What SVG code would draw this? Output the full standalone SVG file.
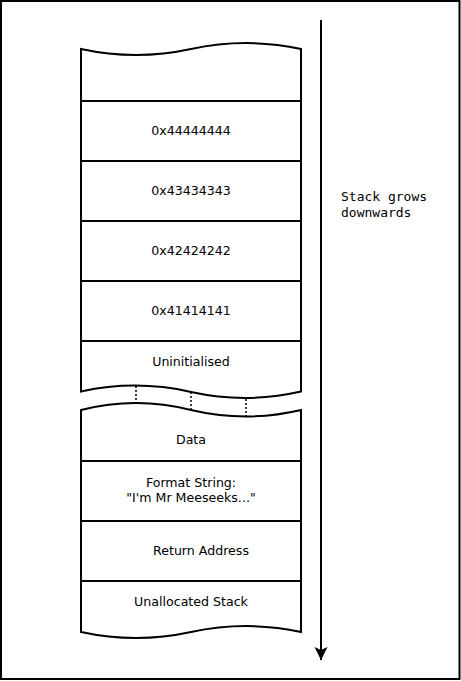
<svg xmlns="http://www.w3.org/2000/svg" width="461" height="681" viewBox="0 0 461 681">
<style>
.s{fill:#fff;stroke:#000;stroke-width:2}
.t{font-family:"DejaVu Sans","Liberation Sans",sans-serif;font-size:12.6px;fill:#000;text-anchor:middle}
.m{font-family:"DejaVu Sans Mono","Liberation Mono",monospace;font-size:13px;fill:#000}
.d{stroke:#000;stroke-width:1.5;stroke-dasharray:2 2;fill:none}
</style>
<defs>
<marker id="ah" markerWidth="14" markerHeight="14" viewBox="0 0 14 14" refX="13" refY="7" orient="auto" markerUnits="userSpaceOnUse">
<path d="M0,0.5 L13,7 L0,13.5 L3,7 Z" fill="#000"/>
</marker>
</defs>
<rect x="1" y="1" width="458.5" height="678" fill="#fff" stroke="#000" stroke-width="2"/>
<g id="top">
<path class="s" d="M81,101 L81,49 Q136,61 191,49 Q246,37 301,49 L301,101 Z"/>
</g>
<g id="cell44">
<rect class="s" x="81" y="101" width="220" height="60"/>
<text class="t" x="191" y="135">0x44444444</text>
</g>
<g id="cell43">
<rect class="s" x="81" y="161" width="220" height="60"/>
<text class="t" x="191" y="195">0x43434343</text>
</g>
<g id="cell42">
<rect class="s" x="81" y="221" width="220" height="60"/>
<text class="t" x="191" y="255">0x42424242</text>
</g>
<g id="cell41">
<rect class="s" x="81" y="281" width="220" height="60"/>
<text class="t" x="191" y="315">0x41414141</text>
</g>
<g id="uninit">
<path class="s" d="M81,341 L301,341 L301,391.5 Q246,404 191,392 Q136,379.5 81,391.5 Z"/>
<text class="t" x="191" y="366">Uninitialised</text>
</g>
<g id="data">
<path class="s" d="M81,461 L81,410 Q136,396 191,410 Q246,423 301,410 L301,461 Z"/>
<text class="t" x="191" y="444">Data</text>
</g>
<g id="format">
<rect class="s" x="81" y="461" width="220" height="60"/>
<text class="t" x="191" y="487">Format String:</text>
<text class="t" x="191" y="502">"I'm Mr Meeseeks..."</text>
</g>
<g id="ret">
<rect class="s" x="81" y="521" width="220" height="60"/>
<text class="t" x="201" y="555">Return Address</text>
</g>
<g id="unalloc">
<path class="s" d="M81,581 L301,581 L301,632 Q246,620 191,632 Q136,644 81,632 Z"/>
<text class="t" x="191" y="606">Unallocated Stack</text>
</g>
<g id="connectors">
<line class="d" x1="136" y1="386" x2="136" y2="403"/>
<line class="d" x1="191" y1="392" x2="191" y2="410"/>
<line class="d" x1="246" y1="399" x2="246" y2="416"/>
<line x1="321" y1="20" x2="321" y2="660" stroke="#000" stroke-width="2" marker-end="url(#ah)"/>
</g>
<g id="label">
<text class="m" x="341" y="201">Stack grows</text>
<text class="m" x="341" y="217">downwards</text>
</g>
</svg>
